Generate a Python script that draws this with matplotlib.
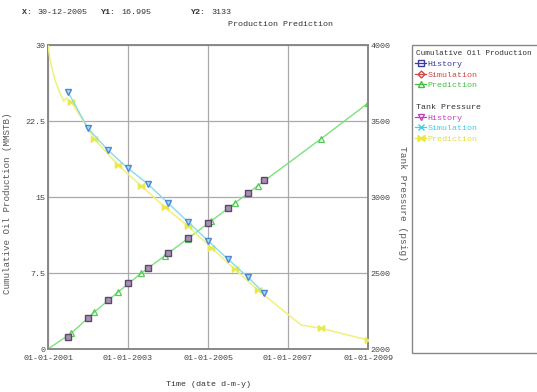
import matplotlib

matplotlib.use("Agg")
import matplotlib.pyplot as plt
import pandas as pd
from matplotlib.lines import Line2D
from matplotlib.patches import Rectangle

# oil history (squares) and tank pressure history (down triangles), same dates
HIST_DATES = ["2001-07-01", "2002-01-01", "2002-07-01", "2003-01-01", "2003-07-01",
              "2004-01-01", "2004-07-01", "2005-01-01", "2005-07-01", "2006-01-01",
              "2006-05-25"]
OIL_HIST = [1.21, 3.03, 4.84, 6.49, 7.97, 9.45, 10.99, 12.47, 13.95, 15.43, 16.65]
PRES_HIST = [3693, 3452, 3309, 3189, 3086, 2961, 2837, 2712, 2592, 2472, 2370]

# oil prediction (green triangles), first point unmarked
OIL_PRED_DATES = ["2001-01-01", "2001-08-01", "2002-03-01", "2002-10-01", "2003-05-01",
                  "2003-12-01", "2004-07-01", "2005-02-01", "2005-09-01", "2006-04-01",
                  "2007-11-01", "2008-12-31"]
OIL_PRED = [0.0, 1.55, 3.65, 5.6, 7.47, 9.18, 10.9, 12.64, 14.38, 16.12, 20.76, 24.25]

# tank pressure prediction (yellow)
PRES_PRED_DATES = ["2001-01-01", "2001-01-20", "2001-03-05", "2001-04-20", "2001-05-25",
                   "2001-06-15", "2001-08-01", "2002-03-01", "2002-10-01", "2003-05-01",
                   "2003-12-01", "2004-07-01", "2005-02-01", "2005-09-01", "2006-04-01",
                   "2007-05-01", "2007-11-01", "2008-12-31"]
PRES_PRED = [4000, 3900, 3770, 3684, 3630, 3651, 3627, 3382, 3211, 3074,
             2935, 2809, 2666, 2526, 2388, 2158, 2136, 2059]
PRES_PRED_MARKED = [6, 7, 8, 9, 10, 11, 12, 13, 14, 16, 17]

XTICKS = ["2001-01-01", "2003-01-01", "2005-01-01", "2007-01-01", "2009-01-01"]
Y1TICKS = [0, 7.5, 15, 22.5, 30]
Y1LABELS = ["0", "7.5", "15", "22.5", "30"]
Y2TICKS = [2000, 2500, 3000, 3500, 4000]

FONT = "Liberation Mono"
INK = "#333333"
GRIDC = "#aaaaaa"
SPINE = "#888888"
GREEN = "#7ee07e"
CYAN = "#86dce8"
YELLOW = "#f0f07a"

plt.rcParams["font.family"] = FONT

fig = plt.figure(figsize=(5.37, 3.92), dpi=100)
ax = fig.add_axes([48 / 537, 1 - 349 / 392, 320 / 537, 304 / 392])
ax2 = ax.twinx()

hd = pd.to_datetime(HIST_DATES)
od = pd.to_datetime(OIL_PRED_DATES)
pd_ = pd.to_datetime(PRES_PRED_DATES)

# cumulative oil
ax.plot(od, OIL_PRED, color=GREEN, lw=1.0, marker="^", ms=4.5, mfc="none",
        mec="#55cc55", mew=0.9, markevery=list(range(1, len(od))), zorder=3)
ax.plot(hd, OIL_HIST, ls="none", marker="s", ms=4.5, mfc="#a890b0", mec="#5f4570",
        mew=1.0, zorder=4)

# tank pressure
ax2.plot(pd_, PRES_PRED, color=YELLOW, lw=1.1, marker=r"$\bowtie$", ms=4.5,
         mfc=YELLOW, mec="#e8e850", markevery=PRES_PRED_MARKED, zorder=3)
ax2.plot(hd, PRES_HIST, color=CYAN, lw=1.0, marker="v", ms=4.5, mfc="#a8d8f4",
         mec="#4f86d6", mew=1.0, zorder=4)

x0, x1 = pd.Timestamp(XTICKS[0]), pd.Timestamp(XTICKS[-1])
ax.set_xlim(x0, x1)
ax.set_ylim(0, 30)
ax2.set_ylim(2000, 4000)
ax.set_xticks(pd.to_datetime(XTICKS))
ax.set_xticklabels([pd.Timestamp(t).strftime("%d-%m-%Y") for t in XTICKS])
ax.set_yticks(Y1TICKS)
ax.set_yticklabels(Y1LABELS)
ax2.set_yticks(Y2TICKS)
ax2.set_yticklabels([str(v) for v in Y2TICKS])

ax.grid(True, color=GRIDC, lw=0.9)
ax.set_axisbelow(True)
for a in (ax, ax2):
    for s in a.spines.values():
        s.set_color(SPINE)
        s.set_linewidth(1.2)
    a.tick_params(length=0, labelsize=6, labelcolor="#444444", pad=2)
ax.tick_params(axis="x", pad=4)

ax.set_ylabel("Cumulative Oil Production (MMSTB)", fontsize=6.6, color="#555555")
ax.yaxis.set_label_coords(-0.112, 0.48)
ax2.set_ylabel("Tank Pressure (psig)", fontsize=6.8, color="#555555", rotation=270,
               va="center")
ax2.yaxis.set_label_coords(1.109, 0.48)
ax.set_xlabel("Time (date d-m-y)", fontsize=6, color=INK, labelpad=14)

# header readout and title
fig.text(22 / 537, 1 - 12 / 392, "X:", fontsize=6, fontweight="bold", color=INK, va="center")
fig.text(37 / 537, 1 - 12 / 392, "30-12-2005", fontsize=6, color=INK, va="center")
fig.text(100 / 537, 1 - 12 / 392, "Y1:", fontsize=6, fontweight="bold", color=INK, va="center")
fig.text(121 / 537, 1 - 12 / 392, "16.995", fontsize=6, color=INK, va="center")
fig.text(190 / 537, 1 - 12 / 392, "Y2:", fontsize=6, fontweight="bold", color=INK, va="center")
fig.text(211 / 537, 1 - 12 / 392, "3133", fontsize=6, color=INK, va="center")
fig.text(280 / 537, 1 - 25 / 392, "Production Prediction", fontsize=6, color=INK,
         ha="center", va="center")

# legend box
fig.patches.append(Rectangle((412 / 537, 1 - 353 / 392), 0.3, 308 / 392,
                             transform=fig.transFigure, fill=False,
                             edgecolor=SPINE, lw=1.0))
blank = Line2D([], [], ls="none")
handles = [
    blank,
    Line2D([], [], color="#3a3aa0", lw=0.9, marker="s", ms=4, mfc="none"),
    Line2D([], [], color="#d04848", lw=0.9, marker="D", ms=3.5, mfc="none"),
    Line2D([], [], color="#44c044", lw=0.9, marker="^", ms=4, mfc="none"),
    blank,
    blank,
    Line2D([], [], color="#c040c0", lw=0.9, marker="v", ms=4, mfc="none"),
    Line2D([], [], color="#40d0e0", lw=0.9, marker="x", ms=4),
    Line2D([], [], color="#e8e840", lw=0.9, marker=r"$\bowtie$", ms=5),
]
labels = ["Cumulative Oil Production", "History", "Simulation", "Prediction", " ",
          "Tank Pressure", "History", "Simulation", "Prediction"]
colors = ["#333333", "#3a3aa0", "#d04848", "#44c044", "#333333",
          "#333333", "#c040c0", "#40d0e0", "#e0e040"]
leg = fig.legend(handles, labels, loc="upper left",
                 bbox_to_anchor=(412 / 537, 1 - 46 / 392), frameon=False,
                 fontsize=6, handlelength=1.3, handletextpad=0.2,
                 labelspacing=0.35, borderaxespad=0)
for t, c in zip(leg.get_texts(), colors):
    t.set_color(c)
for i in (0, 5):
    leg.get_texts()[i].set_x(-12)
leg.get_texts()[0].set_fontsize(5.6)

fig.savefig("out.png", dpi=100)
